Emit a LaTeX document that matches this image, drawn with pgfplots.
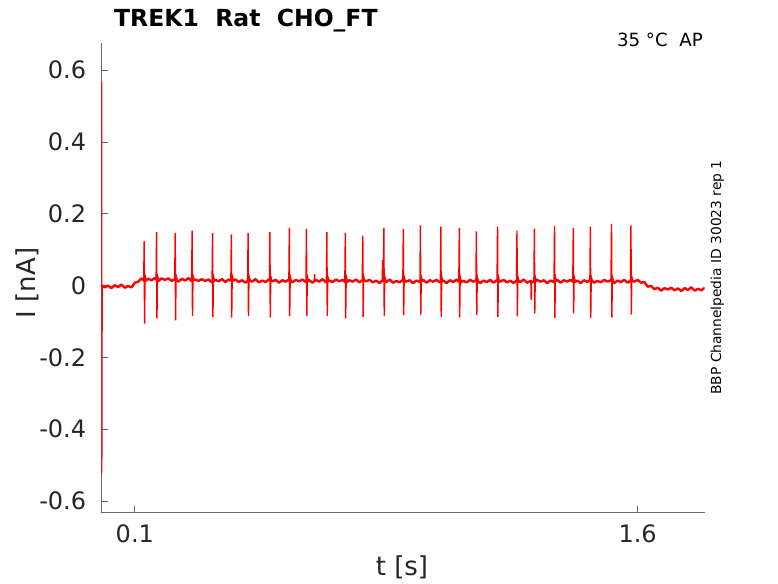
\documentclass[border=0pt]{standalone}
\usepackage{pgfplots}
\pgfplotsset{compat=1.18}
\usepackage{pgfplotstable}
\usepackage{fontspec}
\setmainfont{DejaVu Sans}
\definecolor{axgray}{RGB}{38,38,38}
\definecolor{tracered}{RGB}{255,0,0}

\pgfplotstableread{
t v
0.00 0.002
0.01 -0.005
0.02 0.000
0.03 -0.007
0.04 0.001
0.05 -0.004
0.06 0.003
0.07 -0.006
0.08 -0.001
0.09 -0.005
0.10 0.008
0.11 0.011
0.12 0.020
0.13 0.012
0.14 0.019
0.15 0.015
0.16 0.021
0.17 0.013
0.18 0.020
0.19 0.016
0.20 0.020
0.21 0.013
0.22 0.018
0.23 0.011
0.24 0.019
0.25 0.014
0.26 0.021
0.27 0.012
0.28 0.017
0.29 0.013
0.30 0.018
0.31 0.013
0.32 0.017
0.33 0.009
0.34 0.016
0.35 0.012
0.36 0.018
0.37 0.010
0.38 0.017
0.39 0.013
0.40 0.017
0.41 0.010
0.42 0.015
0.43 0.008
0.44 0.016
0.45 0.011
0.46 0.018
0.47 0.009
0.48 0.014
0.49 0.010
0.50 0.017
0.51 0.012
0.52 0.016
0.53 0.008
0.54 0.015
0.55 0.011
0.56 0.017
0.57 0.009
0.58 0.016
0.59 0.012
0.60 0.017
0.61 0.010
0.62 0.015
0.63 0.008
0.64 0.016
0.65 0.011
0.66 0.018
0.67 0.009
0.68 0.014
0.69 0.010
0.70 0.017
0.71 0.012
0.72 0.016
0.73 0.008
0.74 0.015
0.75 0.011
0.76 0.017
0.77 0.009
0.78 0.016
0.79 0.012
0.80 0.016
0.81 0.009
0.82 0.014
0.83 0.007
0.84 0.015
0.85 0.010
0.86 0.017
0.87 0.008
0.88 0.013
0.89 0.009
0.90 0.016
0.91 0.011
0.92 0.015
0.93 0.007
0.94 0.014
0.95 0.010
0.96 0.016
0.97 0.008
0.98 0.015
0.99 0.011
1.00 0.016
1.01 0.009
1.02 0.014
1.03 0.007
1.04 0.015
1.05 0.010
1.06 0.017
1.07 0.008
1.08 0.013
1.09 0.009
1.10 0.016
1.11 0.011
1.12 0.015
1.13 0.007
1.14 0.014
1.15 0.010
1.16 0.016
1.17 0.008
1.18 0.015
1.19 0.011
1.20 0.016
1.21 0.009
1.22 0.014
1.23 0.007
1.24 0.015
1.25 0.010
1.26 0.017
1.27 0.008
1.28 0.013
1.29 0.009
1.30 0.016
1.31 0.011
1.32 0.015
1.33 0.007
1.34 0.014
1.35 0.010
1.36 0.016
1.37 0.008
1.38 0.015
1.39 0.011
1.40 0.016
1.41 0.009
1.42 0.014
1.43 0.007
1.44 0.015
1.45 0.010
1.46 0.017
1.47 0.008
1.48 0.013
1.49 0.009
1.50 0.016
1.51 0.011
1.52 0.015
1.53 0.007
1.54 0.014
1.55 0.010
1.56 0.016
1.57 0.008
1.58 0.015
1.59 0.011
1.60 0.016
1.61 0.008
1.62 0.010
1.63 -0.003
1.64 -0.001
1.65 -0.010
1.66 -0.006
1.67 -0.014
1.68 -0.007
1.69 -0.011
1.70 -0.006
1.71 -0.013
1.72 -0.008
1.73 -0.015
1.74 -0.007
1.75 -0.012
1.76 -0.005
1.77 -0.014
1.78 -0.009
1.79 -0.013
1.80 -0.006
}\baseline

\begin{document}
\begin{tikzpicture}[x=1pt,y=1pt]
\useasboundingbox (0,0) rectangle (778,583);
\begin{axis}[
  scale only axis, width=603.4pt, height=469pt,
  at={(101.3pt,70.7pt)}, anchor=south west,
  xmin=0, xmax=1.8, ymin=-0.6315, ymax=0.675,
  axis lines*=left,
  axis line style={-, draw=axgray!70, line width=0.8pt},
  xtick={0.1,1.6}, xticklabels={0.1,1.6},
  ytick={-0.6,-0.4,-0.2,0,0.2,0.4,0.6},
  yticklabels={-0.6,-0.4,-0.2,0,0.2,0.4,0.6},
  tick align=inside, major tick length=6.5pt,
  tick style={draw=axgray!70, line width=0.8pt},
  ticklabel style={font=\fontsize{24}{28}\selectfont, text=axgray},
  yticklabel style={anchor=east, inner sep=0pt, xshift=-15pt},
  xticklabel style={anchor=north, inner sep=0pt, yshift=-11.7pt},
  /pgf/number format/assume math mode=true,
  unbounded coords=jump,
]
\addplot[tracered, line width=2.4pt, line join=round] table[x=t, y=v] {\baseline};
\addplot[tracered, line width=1.4pt] coordinates {
(0.0005,-0.002)(0.0010,0.568)(0.0014,-0.522)(0.0025,0.000)(0.0040,-0.002)(0.0040,nan)
(0.1265,0.015)(0.1280,0.124)(0.1290,-0.106)(0.1305,0.028)(0.1340,0.016)(0.1340,nan)
(0.1635,0.015)(0.1650,0.149)(0.1660,-0.091)(0.1675,0.028)(0.1710,0.016)(0.1710,nan)
(0.2190,0.015)(0.2205,0.147)(0.2215,-0.097)(0.2230,0.028)(0.2265,0.016)(0.2265,nan)
(0.2695,0.015)(0.2710,0.153)(0.2720,-0.084)(0.2735,0.028)(0.2770,0.016)(0.2770,nan)
(0.3305,0.014)(0.3320,0.146)(0.3330,-0.088)(0.3345,0.027)(0.3380,0.014)(0.3380,nan)
(0.3865,0.014)(0.3880,0.143)(0.3890,-0.089)(0.3905,0.027)(0.3940,0.014)(0.3940,nan)
(0.4365,0.014)(0.4380,0.146)(0.4390,-0.085)(0.4405,0.027)(0.4440,0.014)(0.4440,nan)
(0.5015,0.013)(0.5030,0.149)(0.5040,-0.089)(0.5055,0.026)(0.5090,0.013)(0.5090,nan)
(0.5595,0.013)(0.5610,0.161)(0.5620,-0.085)(0.5635,0.026)(0.5670,0.013)(0.5670,nan)
(0.6105,0.013)(0.6120,0.159)(0.6130,-0.084)(0.6145,0.026)(0.6180,0.013)(0.6180,nan)
(0.6355,0.012)(0.6362,0.032)(0.6370,0.012)(0.6370,nan)
(0.6715,0.013)(0.6730,0.149)(0.6740,-0.084)(0.6755,0.026)(0.6790,0.013)(0.6790,nan)
(0.7265,0.013)(0.7280,0.147)(0.7290,-0.091)(0.7305,0.026)(0.7340,0.013)(0.7340,nan)
(0.7785,0.013)(0.7800,0.139)(0.7810,-0.087)(0.7825,0.026)(0.7860,0.013)(0.7860,nan)
(0.8380,0.013)(0.8392,0.071)(0.8402,0.013)(0.8402,nan)
(0.8415,0.013)(0.8430,0.161)(0.8440,-0.085)(0.8455,0.026)(0.8490,0.013)(0.8490,nan)
(0.8995,0.012)(0.9010,0.157)(0.9020,-0.082)(0.9035,0.025)(0.9070,0.012)(0.9070,nan)
(0.9505,0.012)(0.9520,0.168)(0.9530,-0.082)(0.9545,0.025)(0.9580,0.012)(0.9580,nan)
(1.0115,0.012)(1.0130,0.164)(1.0140,-0.088)(1.0155,0.025)(1.0190,0.012)(1.0190,nan)
(1.0665,0.012)(1.0680,0.161)(1.0690,-0.089)(1.0705,0.025)(1.0740,0.012)(1.0740,nan)
(1.1175,0.012)(1.1190,0.151)(1.1200,-0.082)(1.1215,0.025)(1.1250,0.012)(1.1250,nan)
(1.1805,0.012)(1.1820,0.164)(1.1830,-0.087)(1.1845,0.025)(1.1880,0.012)(1.1880,nan)
(1.2385,0.012)(1.2400,0.153)(1.2410,-0.086)(1.2425,0.025)(1.2460,0.012)(1.2460,nan)
(1.2815,0.012)(1.2825,-0.040)(1.2835,0.012)(1.2835,nan)
(1.2905,0.012)(1.2920,0.159)(1.2930,-0.078)(1.2945,0.025)(1.2980,0.012)(1.2980,nan)
(1.3505,0.012)(1.3520,0.166)(1.3530,-0.090)(1.3545,0.025)(1.3580,0.012)(1.3580,nan)
(1.4065,0.012)(1.4080,0.160)(1.4090,-0.077)(1.4105,0.025)(1.4140,0.012)(1.4140,nan)
(1.4575,0.012)(1.4590,0.164)(1.4600,-0.090)(1.4615,0.025)(1.4650,0.012)(1.4650,nan)
(1.5205,0.012)(1.5220,0.172)(1.5230,-0.089)(1.5245,0.025)(1.5280,0.012)(1.5280,nan)
(1.5785,0.012)(1.5800,0.168)(1.5810,-0.081)(1.5825,0.025)(1.5860,0.012)
};
\end{axis}
\node[anchor=base west, inner sep=0pt, font=\fontsize{23.5}{28}\selectfont\bfseries] at (114,556.3) {TREK1~~Rat~~CHO\_FT};
\node[anchor=base east, inner sep=0pt, font=\fontsize{18.2}{22}\selectfont] at (703,536.3) {35~°C~~AP};
\node[anchor=base, inner sep=0pt, rotate=90, font=\fontsize{13.8}{17}\selectfont] at (721,305.5) {BBP Channelpedia ID 30023 rep 1};
\node[anchor=base, inner sep=0pt, font=\fontsize{26}{31}\selectfont, text=axgray] at (402,8) {t [s]};
\node[anchor=base, inner sep=0pt, rotate=90, font=\fontsize{26}{31}\selectfont, text=axgray] at (35,300) {I [nA]};
\end{tikzpicture}
\end{document}
